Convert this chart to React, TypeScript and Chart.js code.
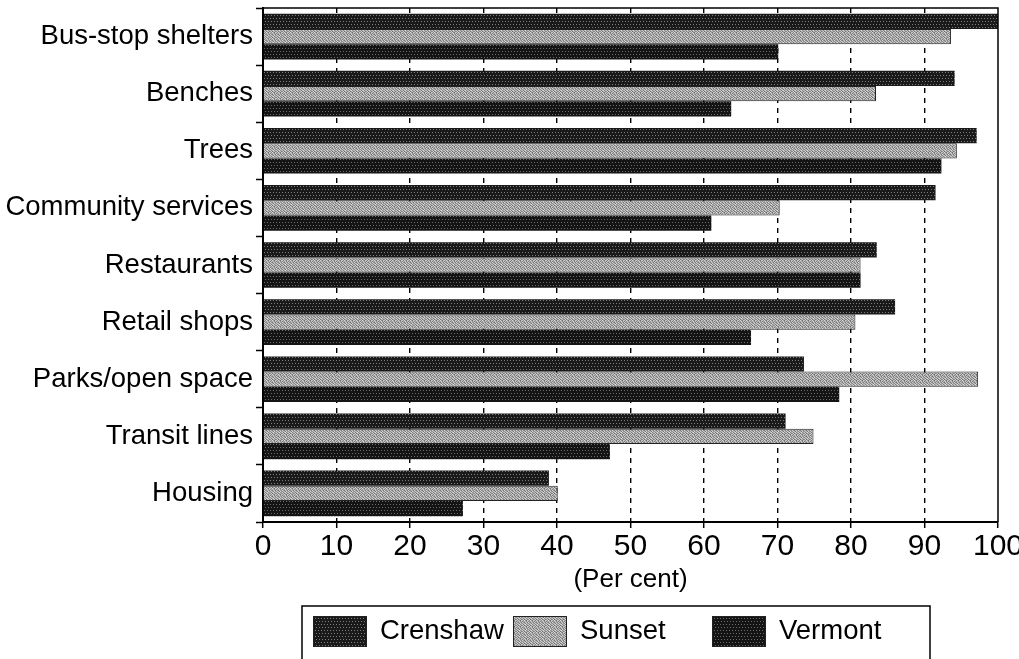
import React, { useEffect, useRef } from "react";
import { Chart, registerables } from "chart.js";

Chart.register(...registerables);

const categories = [
  "Bus-stop shelters",
  "Benches",
  "Trees",
  "Community services",
  "Restaurants",
  "Retail shops",
  "Parks/open space",
  "Transit lines",
  "Housing",
];
const seriesNames = ["Crenshaw", "Sunset", "Vermont"];
const crenshaw = [100, 94.1, 97.1, 91.5, 83.5, 86, 73.6, 71.1, 38.9];
const sunset = [93.6, 83.4, 94.4, 70.3, 81.3, 80.6, 97.3, 74.9, 40.1];
const vermont = [70.1, 63.7, 92.3, 61, 81.3, 66.4, 78.4, 47.2, 27.2];
const xMin = 0;
const xMax = 100;
const xStep = 10;
const axisTitle = "(Per cent)";

const FONT = "'Liberation Sans', Arial, Helvetica, sans-serif";

function makePattern(kind: string): CanvasPattern | string {
  const c = document.createElement("canvas");
  const size = 6;
  c.width = size;
  c.height = size;
  const g = c.getContext("2d");
  if (!g) return "#444";
  if (kind === "dark" || kind === "darker") {
    g.fillStyle = kind === "dark" ? "#1a1a1a" : "#141414";
    g.fillRect(0, 0, size, size);
    g.fillStyle = kind === "dark" ? "#7c7c7c" : "#6c6c6c";
    g.fillRect(0, 0, 1, 1);
    g.fillRect(3, 0, 1, 1);
    g.fillRect(1, 3, 1, 1);
    g.fillRect(4, 3, 1, 1);
  } else {
    const shades = [
      "#c8c8c8", "#7a7a7a", "#b8b8b8", "#dcdcdc", "#8a8a8a", "#adadad",
      "#909090", "#d4d4d4", "#6d6d6d", "#a8a8a8", "#c0c0c0", "#7f7f7f",
      "#bfbfbf", "#858585", "#d8d8d8", "#989898", "#6f6f6f", "#cacaca",
      "#7c7c7c", "#b0b0b0", "#a0a0a0", "#cccccc", "#898989", "#bababa",
      "#d6d6d6", "#949494", "#787878", "#bcbcbc", "#acacac", "#808080",
      "#8c8c8c", "#c4c4c4", "#b4b4b4", "#767676", "#d2d2d2", "#9c9c9c",
    ];
    for (let y = 0; y < size; y++) {
      for (let x = 0; x < size; x++) {
        g.fillStyle = shades[y * size + x];
        g.fillRect(x, y, 1, 1);
      }
    }
  }
  const ctx2 = document.createElement("canvas").getContext("2d");
  const p = ctx2 ? ctx2.createPattern(c, "repeat") : null;
  return p || "#555";
}

export default function App() {
  const ref = useRef<HTMLCanvasElement | null>(null);

  useEffect(() => {
    const canvas = ref.current;
    if (!canvas) return;
    const pCren = makePattern("dark");
    const pSun = makePattern("light");
    const pVer = makePattern("darker");
    const fills = [pCren, pSun, pVer];

    const framePlugin = {
      id: "frameAndLegend",
      afterDatasetsDraw(chart: any) {
        const { ctx, chartArea } = chart;
        ctx.save();
        ctx.strokeStyle = "#000";
        ctx.lineWidth = 1.5;
        ctx.beginPath();
        ctx.moveTo(chartArea.left, chartArea.top);
        ctx.lineTo(chartArea.right, chartArea.top);
        ctx.lineTo(chartArea.right, chartArea.bottom);
        ctx.stroke();
        ctx.restore();
      },
      afterDraw(chart: any) {
        const { ctx, chartArea } = chart;
        ctx.save();
        ctx.fillStyle = "#000";
        ctx.font = `26px ${FONT}`;
        ctx.textAlign = "center";
        ctx.textBaseline = "middle";
        ctx.fillText(axisTitle, (chartArea.left + chartArea.right) / 2, 580);

        ctx.strokeStyle = "#000";
        ctx.lineWidth = 1.5;
        ctx.strokeRect(302, 606, 628, 80);
        const swX = [313, 513, 712];
        ctx.font = `27.5px ${FONT}`;
        ctx.textAlign = "left";
        seriesNames.forEach((name, i) => {
          ctx.fillStyle = fills[i] as any;
          ctx.fillRect(swX[i], 616, 54, 31);
          ctx.lineWidth = 1;
          ctx.strokeStyle = "#222";
          ctx.strokeRect(swX[i] + 0.5, 616.5, 53, 30);
          ctx.fillStyle = "#000";
          ctx.fillText(name, swX[i] + 67, 631);
        });
        ctx.restore();
      },
    };

    const chart = new Chart(canvas, {
      type: "bar",
      data: {
        labels: categories,
        datasets: [
          { label: seriesNames[0], data: crenshaw, backgroundColor: pCren as any, borderWidth: 0, categoryPercentage: 0.8, barPercentage: 1.0 },
          { label: seriesNames[1], data: sunset, backgroundColor: pSun as any, borderColor: "#222", borderWidth: 1, categoryPercentage: 0.8, barPercentage: 1.0 },
          { label: seriesNames[2], data: vermont, backgroundColor: pVer as any, borderWidth: 0, categoryPercentage: 0.8, barPercentage: 1.0 },
        ],
      },
      options: {
        indexAxis: "y",
        responsive: false,
        animation: false,
        events: [],
        layout: { padding: { top: 8, right: 21, left: 0, bottom: 0 } },
        plugins: {
          legend: { display: false },
          tooltip: { enabled: false },
          title: { display: false },
        },
        scales: {
          x: {
            type: "linear",
            position: "bottom",
            min: xMin,
            max: xMax,
            ticks: {
              stepSize: xStep,
              color: "#000",
              font: { family: FONT, size: 30 },
              padding: 1,
              maxRotation: 0,
            },
            grid: {
              color: (c: any) =>
                c.tick && (c.tick.value === xMin || c.tick.value === xMax) ? "rgba(0,0,0,0)" : "#000",
              lineWidth: 1.4,
              tickBorderDash: [],
              tickColor: "#000",
              tickLength: 6,
              tickWidth: 1.5,
            },
            border: { display: true, color: "#000", width: 2, dash: [5, 5] },
            afterFit: (s: any) => {
              s.height = 137;
              s.paddingLeft = 0;
              s.paddingRight = 0;
            },
          },
          y: {
            type: "category",
            ticks: {
              color: "#000",
              font: { family: FONT, size: 27.5 },
              padding: 3,
            },
            grid: {
              offset: true,
              drawOnChartArea: false,
              drawTicks: true,
              tickLength: 7,
              tickColor: "#000",
              tickWidth: 1.5,
            },
            border: { display: true, color: "#000", width: 2 },
            afterFit: (s: any) => {
              s.width = 263;
              s.paddingTop = 0;
              s.paddingBottom = 0;
            },
          },
        },
      },
      plugins: [framePlugin],
    } as any);

    return () => chart.destroy();
  }, []);

  return (
    <div style={{ position: "fixed", left: 0, top: 0, width: 1019, height: 659, background: "#fff" }}>
      <canvas ref={ref} width={1019} height={659} style={{ display: "block" }} />
    </div>
  );
}
